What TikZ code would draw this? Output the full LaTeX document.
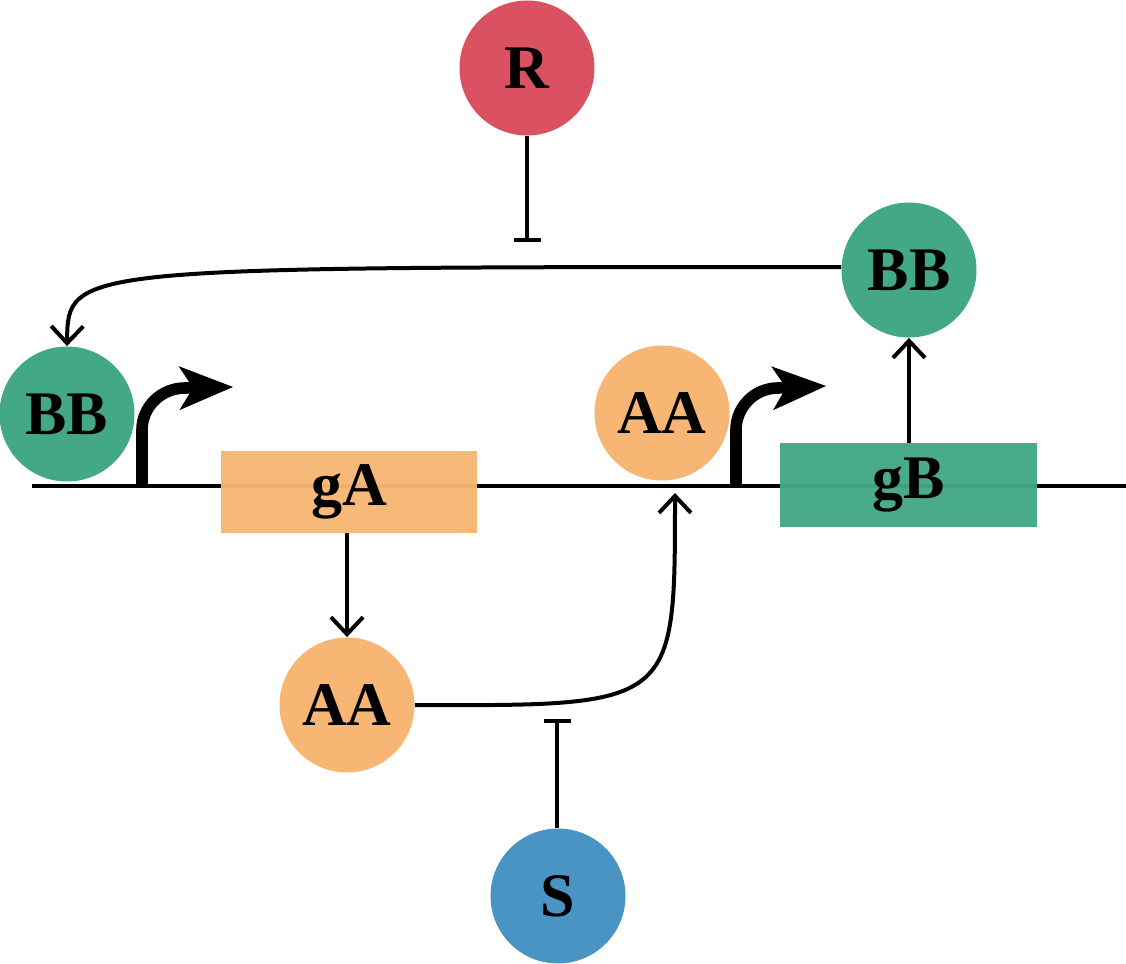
\documentclass[tikz,border=0pt]{standalone}
\usepackage{fontspec}
\setmainfont{Liberation Serif}
\usetikzlibrary{arrows.meta}
\definecolor{cR}{HTML}{DA5262}
\definecolor{cG}{HTML}{43A887}
\definecolor{cO}{HTML}{F7B673}
\definecolor{cS}{HTML}{4A94C4}
\tikzset{
  circ/.style={circle, minimum size=67.5pt, inner sep=0pt, font=\fontsize{31}{36}\selectfont\bfseries},
  genebox/.style={rectangle, minimum width=128pt, minimum height=41pt, inner sep=0pt, fill opacity=0.96, text opacity=1, font=\fontsize{31}{36}\selectfont\bfseries},
  act/.style={line width=2pt, -{Straight Barb[length=8.5pt,width=16pt]}},
  inh/.style={line width=2pt, -{Bar[width=13.5pt]}},
  promoter/.style={line width=5.8pt, -{Stealth[length=27pt,width=22pt,inset=7pt,line width=0pt]}},
  dna/.style={line width=2pt}
}
\begin{document}
\begin{tikzpicture}[x=0.5pt,y=-0.5pt]
\useasboundingbox (0,0) rectangle (1126,964);
% DNA
\coordinate (dnaL) at (32,486);
\coordinate (dnaR) at (1126,486);
\draw[dna] (dnaL) -- (dnaR);
% promoters
\coordinate (p1s) at (142,486);
\coordinate (p1c) at (142,430);
\coordinate (p1m) at (185,388);
\coordinate (p1e) at (233,387);
\draw[promoter] (p1s) -- (p1c) to[out=90,in=180] (p1m) -- (p1e);
\coordinate (p2s) at (736,486);
\coordinate (p2c) at (736,430);
\coordinate (p2m) at (778,388);
\coordinate (p2e) at (826,386);
\draw[promoter] (p2s) -- (p2c) to[out=90,in=180] (p2m) -- (p2e);
% genes
\node[genebox, fill=cO] (gA) at (349,492) {gA};
\node[genebox, fill=cG, minimum width=128.5pt, minimum height=42pt] (gB) at (908.5,485) {gB};
% circles
\node[circ, fill=cR] (R) at (527,68) {R};
\node[circ, fill=cG] (BB2) at (909,270) {BB};
\node[circ, fill=cG] (BB1) at (67,414) {BB};
\node[circ, fill=cO] (AA1) at (662,413) {AA};
\node[circ, fill=cO] (AA2) at (347,705) {AA};
\node[circ, fill=cS] (S) at (558,896) {S};
% connectors
\coordinate (Rbar) at (527,242);
\draw[inh] (R.south) -- (Rbar);
\coordinate (Sbar) at (557,719);
\draw[inh] (S.north -| Sbar) -- (Sbar);
\draw[act] ([yshift=1.5pt]BB2.west) .. controls (68,267) and (68,267) .. (BB1.north);
\draw[act] (gB.north -| BB2.south) -- (BB2.south);
\draw[act] (gA.south -| AA2.north) -- (AA2.north);
\coordinate (AA1in) at (675,493);
\draw[act] (AA2.east) .. controls (675,706) and (675,706) .. (AA1in);
\end{tikzpicture}
\end{document}
